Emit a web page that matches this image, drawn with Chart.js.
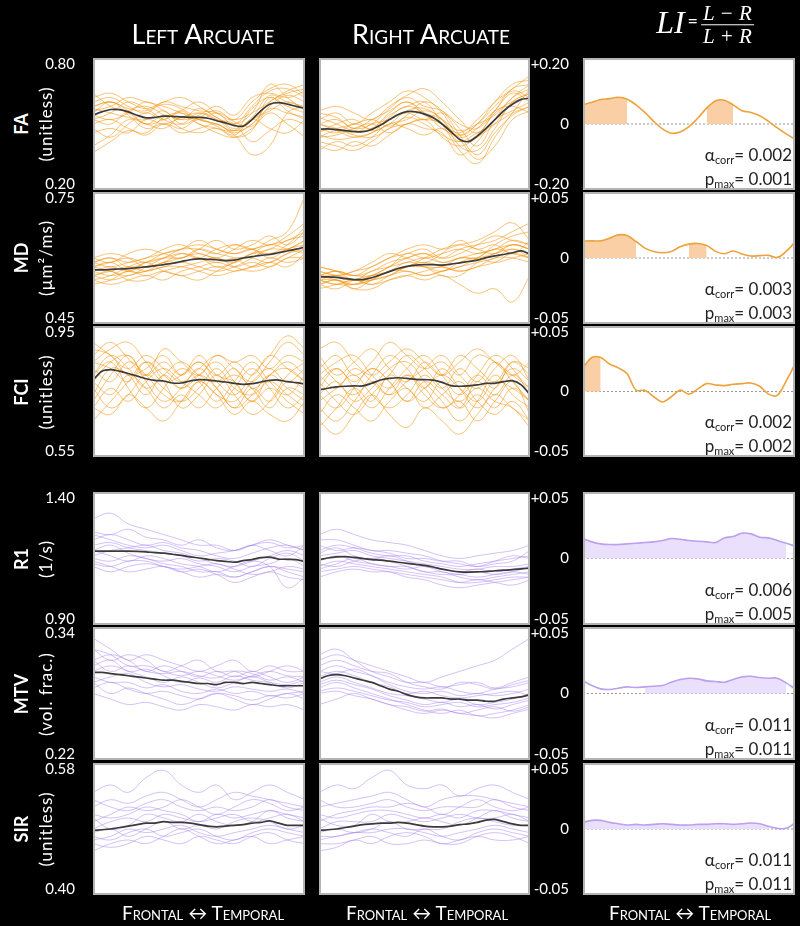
<!DOCTYPE html>
<html><head><meta charset="utf-8">
<script src="https://cdn.jsdelivr.net/npm/chart.js@4.4.0/dist/chart.umd.min.js"></script>
<style>
html,body{margin:0;padding:0;background:#000;width:800px;height:926px;overflow:hidden;font-family:Lato,'Open Sans',sans-serif;}
canvas{position:absolute;}
.t{position:absolute;color:#fff;white-space:nowrap;}
.hdr{font-variant:small-caps;font-size:27px;transform:translate(-50%,-50%);}
.foot{font-variant:small-caps;font-size:19px;transform:translate(-50%,-50%);}
.rt{transform:translate(-50%,-50%) rotate(-90deg);}
.stat{position:absolute;color:#222;font-size:17px;text-align:right;line-height:19px;white-space:nowrap;}
.stat sub{font-size:11px;vertical-align:-3px;}
.frac{font-family:'Liberation Serif','DejaVu Serif',serif;font-style:italic;}
</style></head><body>
<script>
// ---------- DATA ----------
const columnTitles = ['Left Arcuate', 'Right Arcuate'];
const xAxisText = 'Frontal \u2194 Temporal';
const rowNames = ['FA', 'MD', 'FCI', 'R1', 'MTV', 'SIR'];
const rowUnits = ['(unitless)', '(\u00b5m\u00b2/ms)', '(unitless)', '(1/s)', '(vol. frac.)', '(unitless)'];
const yRanges = [[0.20, 0.80], [0.45, 0.75], [0.55, 0.95], [0.90, 1.40], [0.22, 0.34], [0.40, 0.58]];
const yTickLabels = [['0.20', '0.80'], ['0.45', '0.75'], ['0.55', '0.95'], ['0.90', '1.40'], ['0.22', '0.34'], ['0.40', '0.58']];
const liLimits = [0.20, 0.05, 0.05, 0.05, 0.05, 0.05];
const liTickLabels = [['-0.20', '0', '+0.20'], ['-0.05', '0', '+0.05'], ['-0.05', '0', '+0.05'], ['-0.05', '0', '+0.05'], ['-0.05', '0', '+0.05'], ['-0.05', '0', '+0.05']];
const alphaCorr = ['0.002', '0.003', '0.002', '0.006', '0.011', '0.011'];
const pMax = ['0.001', '0.003', '0.002', '0.005', '0.011', '0.011'];

// group means (25 nodes along the tract)
const faLeftMean = [0.54,0.555,0.566,0.565,0.555,0.54,0.528,0.53,0.536,0.535,0.532,0.53,0.53,0.526,0.515,0.505,0.493,0.49,0.52,0.56,0.59,0.597,0.59,0.58,0.571];
const faRightMean = [0.476,0.478,0.474,0.47,0.466,0.465,0.475,0.495,0.52,0.543,0.556,0.555,0.545,0.528,0.5,0.465,0.43,0.42,0.445,0.48,0.52,0.56,0.59,0.612,0.617];
const mdLeftMean = [0.573,0.573,0.574,0.575,0.576,0.578,0.58,0.582,0.585,0.588,0.592,0.596,0.598,0.597,0.596,0.594,0.595,0.6,0.603,0.606,0.608,0.612,0.616,0.62,0.625];
const mdRightMean = [0.557,0.557,0.556,0.553,0.551,0.551,0.555,0.562,0.569,0.576,0.581,0.584,0.585,0.585,0.584,0.586,0.589,0.592,0.595,0.601,0.605,0.608,0.612,0.616,0.609];
const fciLeftMean = [0.785,0.812,0.817,0.812,0.805,0.797,0.789,0.784,0.782,0.776,0.776,0.782,0.786,0.785,0.782,0.779,0.775,0.772,0.774,0.779,0.784,0.785,0.78,0.777,0.773];
const fciRightMean = [0.755,0.76,0.764,0.766,0.767,0.767,0.775,0.785,0.79,0.792,0.79,0.787,0.786,0.785,0.778,0.768,0.766,0.767,0.77,0.775,0.775,0.78,0.783,0.77,0.74];
const r1LeftMean = [1.178,1.178,1.178,1.178,1.178,1.177,1.175,1.172,1.17,1.166,1.162,1.156,1.152,1.147,1.142,1.139,1.136,1.142,1.146,1.153,1.155,1.148,1.147,1.146,1.138];
const r1RightMean = [1.146,1.152,1.156,1.157,1.154,1.15,1.146,1.144,1.14,1.136,1.132,1.128,1.124,1.118,1.11,1.104,1.1,1.099,1.1,1.101,1.104,1.106,1.108,1.111,1.114];
const mtvLeftMean = [0.299,0.299,0.298,0.297,0.296,0.295,0.294,0.293,0.292,0.292,0.291,0.29,0.289,0.289,0.288,0.29,0.29,0.289,0.29,0.289,0.288,0.287,0.287,0.287,0.287];
const mtvRightMean = [0.293,0.296,0.297,0.296,0.294,0.292,0.29,0.287,0.284,0.282,0.279,0.277,0.276,0.276,0.276,0.275,0.275,0.274,0.274,0.273,0.273,0.275,0.276,0.277,0.279];
const sirLeftMean = [0.488,0.489,0.49,0.492,0.494,0.496,0.498,0.498,0.5,0.499,0.499,0.498,0.496,0.494,0.493,0.494,0.495,0.496,0.498,0.499,0.501,0.498,0.495,0.495,0.495];
const sirRightMean = [0.488,0.489,0.49,0.492,0.494,0.496,0.497,0.498,0.498,0.499,0.498,0.496,0.494,0.493,0.493,0.494,0.496,0.497,0.499,0.502,0.503,0.5,0.497,0.495,0.495];

// laterality index (25 nodes)
const liFA = [0.058,0.066,0.074,0.077,0.081,0.075,0.058,0.035,0.008,-0.015,-0.028,-0.024,-0.008,0.018,0.048,0.07,0.072,0.058,0.04,0.035,0.025,0.008,-0.012,-0.03,-0.046];
const liMD = [0.0128,0.013,0.013,0.015,0.0175,0.017,0.0125,0.0075,0.005,0.004,0.005,0.0085,0.0105,0.011,0.0095,0.005,0.0032,0.0053,0.003,0.0015,0.0018,0.002,0.0005,0.005,0.012];
const liFCI = [0.018,0.026,0.026,0.021,0.018,0.0135,0.001,0.001,-0.004,-0.008,-0.004,0.001,-0.002,0.002,0.006,0.005,0.0045,0.0055,0.006,0.0065,0.004,-0.002,-0.003,0.008,0.021];
const liR1 = [0.015,0.0125,0.011,0.0105,0.0105,0.011,0.0115,0.012,0.0125,0.0135,0.015,0.0145,0.0135,0.013,0.0125,0.012,0.0155,0.0165,0.019,0.0185,0.016,0.0155,0.0135,0.0115,0.0093];
const liMTV = [0.0095,0.006,0.0035,0.003,0.004,0.005,0.0045,0.005,0.0055,0.006,0.0085,0.0105,0.0115,0.011,0.0095,0.009,0.0085,0.0105,0.0125,0.013,0.012,0.0115,0.0115,0.008,0.0035];
const liSIR = [0.005,0.0065,0.0065,0.005,0.004,0.003,0.0035,0.003,0.0035,0.004,0.0035,0.003,0.003,0.0035,0.0035,0.004,0.004,0.0035,0.004,0.0045,0.004,0.002,0.0005,0.0005,0.0045];
// significant node ranges (first, last node index)
const faShade = [[0,5],[14,17]];
const mdShade = [[0,6],[12,14]];
const fciShade = [[0,2]];
const r1Shade = [[0,23]];
const mtvShade = [[7,23]];
const sirShade = [[0,21]];

// individual subjects (13 nodes along the tract)
const faLeftSubj = [
[0.60,0.62,0.58,0.55,0.60,0.58,0.56,0.55,0.50,0.58,0.65,0.66,0.62],
[0.52,0.55,0.60,0.57,0.52,0.50,0.55,0.52,0.47,0.50,0.60,0.64,0.66],
[0.48,0.44,0.50,0.55,0.52,0.56,0.50,0.48,0.45,0.36,0.40,0.55,0.58],
[0.58,0.60,0.56,0.50,0.54,0.52,0.57,0.53,0.50,0.55,0.68,0.62,0.56],
[0.40,0.45,0.52,0.50,0.48,0.53,0.50,0.46,0.44,0.48,0.55,0.50,0.44],
[0.56,0.58,0.62,0.60,0.58,0.55,0.52,0.55,0.52,0.55,0.60,0.65,0.68],
[0.55,0.60,0.54,0.48,0.50,0.46,0.48,0.50,0.46,0.50,0.57,0.55,0.53],
[0.62,0.64,0.60,0.57,0.60,0.62,0.58,0.53,0.48,0.53,0.63,0.60,0.58],
[0.50,0.52,0.48,0.46,0.53,0.55,0.52,0.50,0.47,0.57,0.62,0.58,0.55],
[0.57,0.55,0.53,0.52,0.56,0.50,0.53,0.56,0.51,0.49,0.58,0.63,0.60],
[0.52,0.50,0.56,0.58,0.54,0.48,0.46,0.48,0.44,0.47,0.62,0.56,0.52],
[0.64,0.58,0.55,0.50,0.52,0.56,0.60,0.55,0.52,0.60,0.66,0.68,0.63],
[0.46,0.48,0.46,0.52,0.50,0.53,0.55,0.52,0.50,0.42,0.47,0.52,0.50],
[0.58,0.60,0.57,0.56,0.59,0.57,0.52,0.50,0.47,0.52,0.56,0.60,0.57],
[0.37,0.42,0.47,0.45,0.50,0.48,0.52,0.49,0.45,0.52,0.48,0.46,0.52],
[0.54,0.52,0.55,0.60,0.56,0.52,0.54,0.58,0.54,0.62,0.64,0.62,0.65]];
const faRightSubj = [
[0.52,0.55,0.50,0.55,0.60,0.65,0.62,0.55,0.45,0.50,0.60,0.68,0.70],
[0.45,0.43,0.44,0.46,0.50,0.52,0.56,0.52,0.40,0.38,0.48,0.60,0.64],
[0.40,0.38,0.42,0.40,0.45,0.50,0.48,0.46,0.36,0.42,0.52,0.56,0.60],
[0.50,0.52,0.48,0.52,0.56,0.60,0.55,0.48,0.45,0.50,0.58,0.65,0.62],
[0.48,0.46,0.50,0.48,0.54,0.58,0.60,0.50,0.38,0.32,0.44,0.55,0.66],
[0.55,0.53,0.48,0.50,0.57,0.62,0.58,0.56,0.50,0.48,0.56,0.64,0.60],
[0.44,0.47,0.45,0.44,0.48,0.53,0.50,0.45,0.42,0.46,0.50,0.55,0.58],
[0.50,0.48,0.46,0.50,0.52,0.55,0.52,0.55,0.48,0.40,0.52,0.62,0.68],
[0.46,0.50,0.52,0.47,0.50,0.56,0.57,0.52,0.44,0.48,0.56,0.58,0.55],
[0.42,0.40,0.38,0.42,0.48,0.50,0.52,0.44,0.40,0.44,0.50,0.60,0.64],
[0.53,0.50,0.47,0.48,0.55,0.60,0.54,0.50,0.46,0.52,0.60,0.66,0.72],
[0.47,0.48,0.50,0.52,0.49,0.54,0.60,0.56,0.45,0.36,0.46,0.54,0.58],
[0.38,0.42,0.40,0.44,0.50,0.48,0.45,0.48,0.42,0.45,0.55,0.60,0.62],
[0.50,0.47,0.44,0.46,0.53,0.58,0.55,0.52,0.47,0.50,0.54,0.62,0.66],
[0.56,0.58,0.55,0.52,0.58,0.63,0.66,0.60,0.52,0.46,0.56,0.66,0.68],
[0.44,0.45,0.48,0.50,0.46,0.50,0.52,0.50,0.43,0.34,0.40,0.52,0.56]];
const mdLeftSubj = [
[0.59,0.60,0.59,0.60,0.61,0.62,0.64,0.62,0.61,0.62,0.63,0.64,0.66],
[0.56,0.55,0.56,0.57,0.58,0.59,0.58,0.57,0.58,0.60,0.62,0.62,0.64],
[0.58,0.59,0.60,0.59,0.60,0.61,0.60,0.62,0.63,0.62,0.64,0.66,0.74],
[0.55,0.54,0.55,0.56,0.55,0.57,0.58,0.59,0.58,0.59,0.58,0.60,0.60],
[0.57,0.58,0.57,0.59,0.60,0.60,0.62,0.61,0.60,0.58,0.59,0.61,0.62],
[0.60,0.61,0.60,0.58,0.59,0.60,0.61,0.60,0.62,0.64,0.63,0.65,0.68],
[0.56,0.57,0.58,0.57,0.58,0.58,0.57,0.56,0.57,0.58,0.60,0.59,0.60],
[0.58,0.57,0.56,0.58,0.60,0.62,0.63,0.62,0.61,0.62,0.60,0.62,0.63],
[0.55,0.56,0.58,0.59,0.57,0.56,0.55,0.57,0.59,0.61,0.63,0.62,0.61],
[0.59,0.58,0.59,0.60,0.62,0.63,0.61,0.60,0.59,0.61,0.62,0.64,0.65],
[0.57,0.56,0.57,0.58,0.59,0.61,0.60,0.59,0.60,0.60,0.59,0.61,0.63],
[0.56,0.57,0.55,0.55,0.57,0.58,0.59,0.60,0.58,0.57,0.58,0.60,0.62],
[0.60,0.59,0.61,0.62,0.61,0.60,0.62,0.64,0.62,0.63,0.65,0.63,0.66],
[0.58,0.59,0.57,0.57,0.59,0.59,0.60,0.58,0.59,0.61,0.61,0.62,0.64],
[0.54,0.55,0.57,0.56,0.57,0.56,0.57,0.58,0.57,0.58,0.59,0.58,0.61],
[0.59,0.60,0.58,0.59,0.61,0.62,0.62,0.61,0.63,0.62,0.61,0.63,0.67]];
const mdRightSubj = [
[0.57,0.56,0.57,0.58,0.60,0.62,0.63,0.62,0.63,0.64,0.66,0.68,0.64],
[0.55,0.54,0.54,0.55,0.56,0.57,0.56,0.57,0.58,0.59,0.60,0.62,0.60],
[0.54,0.55,0.53,0.53,0.55,0.56,0.55,0.56,0.54,0.52,0.53,0.50,0.56],
[0.56,0.57,0.56,0.57,0.59,0.60,0.61,0.60,0.62,0.63,0.64,0.66,0.68],
[0.58,0.57,0.55,0.56,0.58,0.60,0.61,0.59,0.60,0.61,0.62,0.64,0.63],
[0.55,0.54,0.55,0.54,0.56,0.58,0.59,0.58,0.57,0.58,0.60,0.60,0.59],
[0.56,0.57,0.56,0.56,0.57,0.58,0.60,0.62,0.63,0.62,0.61,0.63,0.62],
[0.54,0.55,0.54,0.55,0.57,0.57,0.56,0.57,0.58,0.60,0.62,0.61,0.60],
[0.57,0.56,0.55,0.57,0.58,0.59,0.60,0.59,0.60,0.60,0.63,0.65,0.66],
[0.55,0.56,0.55,0.55,0.56,0.58,0.58,0.57,0.59,0.60,0.59,0.60,0.61],
[0.56,0.55,0.54,0.56,0.58,0.61,0.60,0.61,0.62,0.61,0.62,0.63,0.62],
[0.53,0.54,0.55,0.54,0.55,0.56,0.57,0.58,0.57,0.58,0.59,0.61,0.60],
[0.58,0.57,0.56,0.58,0.60,0.61,0.62,0.60,0.61,0.63,0.65,0.64,0.63],
[0.55,0.55,0.53,0.55,0.57,0.58,0.58,0.58,0.60,0.60,0.61,0.62,0.61],
[0.56,0.56,0.57,0.59,0.61,0.60,0.59,0.61,0.64,0.62,0.63,0.61,0.64],
[0.54,0.53,0.55,0.56,0.57,0.59,0.58,0.56,0.56,0.59,0.61,0.63,0.62]];
const fciLeftSubj = [
[0.86,0.90,0.85,0.80,0.88,0.84,0.80,0.86,0.82,0.78,0.84,0.90,0.86],
[0.72,0.80,0.86,0.78,0.72,0.76,0.82,0.76,0.70,0.74,0.80,0.76,0.72],
[0.80,0.84,0.76,0.70,0.76,0.82,0.78,0.72,0.78,0.84,0.78,0.74,0.80],
[0.66,0.72,0.78,0.84,0.78,0.70,0.74,0.80,0.74,0.68,0.72,0.80,0.84],
[0.84,0.88,0.90,0.84,0.78,0.80,0.84,0.80,0.84,0.80,0.86,0.82,0.78],
[0.78,0.74,0.80,0.76,0.70,0.74,0.70,0.76,0.80,0.76,0.70,0.76,0.74],
[0.88,0.86,0.80,0.82,0.86,0.80,0.84,0.78,0.74,0.80,0.86,0.92,0.88],
[0.74,0.82,0.80,0.74,0.80,0.76,0.80,0.84,0.78,0.72,0.76,0.72,0.68],
[0.82,0.78,0.84,0.80,0.74,0.72,0.78,0.74,0.72,0.78,0.82,0.78,0.82],
[0.70,0.76,0.72,0.78,0.82,0.78,0.74,0.70,0.76,0.82,0.76,0.70,0.74],
[0.80,0.86,0.82,0.76,0.80,0.84,0.80,0.78,0.82,0.76,0.80,0.84,0.80],
[0.76,0.70,0.74,0.80,0.76,0.72,0.76,0.82,0.76,0.74,0.78,0.74,0.70],
[0.84,0.82,0.78,0.84,0.80,0.76,0.80,0.76,0.70,0.76,0.72,0.78,0.76],
[0.78,0.84,0.86,0.80,0.84,0.80,0.86,0.80,0.78,0.72,0.80,0.82,0.78],
[0.70,0.68,0.74,0.70,0.66,0.72,0.78,0.74,0.68,0.72,0.68,0.66,0.72],
[0.90,0.86,0.82,0.86,0.82,0.78,0.82,0.86,0.84,0.86,0.82,0.86,0.84]];
const fciRightSubj = [
[0.82,0.86,0.80,0.84,0.90,0.86,0.82,0.84,0.80,0.86,0.84,0.80,0.76],
[0.70,0.66,0.72,0.78,0.74,0.80,0.76,0.70,0.72,0.66,0.72,0.78,0.68],
[0.78,0.82,0.76,0.70,0.76,0.82,0.86,0.80,0.74,0.80,0.86,0.82,0.74],
[0.64,0.70,0.76,0.72,0.80,0.76,0.72,0.78,0.70,0.74,0.70,0.76,0.72],
[0.86,0.80,0.84,0.88,0.82,0.78,0.84,0.80,0.86,0.82,0.78,0.84,0.80],
[0.74,0.78,0.72,0.76,0.82,0.84,0.78,0.72,0.66,0.72,0.80,0.74,0.70],
[0.80,0.76,0.82,0.78,0.74,0.78,0.82,0.86,0.80,0.76,0.82,0.86,0.78],
[0.68,0.74,0.70,0.66,0.72,0.76,0.70,0.74,0.78,0.72,0.68,0.72,0.66],
[0.76,0.82,0.78,0.82,0.78,0.72,0.78,0.74,0.70,0.78,0.74,0.80,0.76],
[0.84,0.78,0.74,0.80,0.86,0.82,0.76,0.82,0.76,0.70,0.76,0.82,0.78],
[0.72,0.76,0.80,0.74,0.70,0.74,0.80,0.76,0.82,0.78,0.84,0.78,0.72],
[0.78,0.72,0.68,0.74,0.80,0.86,0.82,0.76,0.72,0.76,0.72,0.70,0.64],
[0.80,0.84,0.86,0.80,0.76,0.80,0.74,0.70,0.74,0.80,0.76,0.84,0.82],
[0.74,0.70,0.76,0.82,0.78,0.72,0.76,0.80,0.76,0.72,0.78,0.76,0.72],
[0.66,0.62,0.68,0.74,0.68,0.64,0.70,0.66,0.62,0.68,0.74,0.70,0.66],
[0.88,0.90,0.84,0.80,0.84,0.88,0.84,0.80,0.84,0.88,0.84,0.80,0.84]];
const r1LeftSubj = [
[1.30,1.32,1.28,1.26,1.24,1.22,1.20,1.20,1.18,1.20,1.22,1.20,1.18],
[1.15,1.14,1.16,1.15,1.13,1.12,1.10,1.10,1.08,1.10,1.12,1.10,1.08],
[1.22,1.24,1.22,1.20,1.21,1.19,1.18,1.16,1.15,1.17,1.19,1.20,1.18],
[1.18,1.16,1.14,1.16,1.15,1.13,1.12,1.10,1.12,1.14,1.12,1.04,1.08],
[1.25,1.24,1.26,1.23,1.22,1.20,1.22,1.19,1.18,1.20,1.18,1.16,1.20],
[1.14,1.12,1.10,1.11,1.12,1.10,1.08,1.09,1.08,1.10,1.12,1.11,1.10],
[1.20,1.21,1.19,1.18,1.17,1.16,1.14,1.15,1.14,1.12,1.15,1.17,1.14],
[1.16,1.18,1.19,1.20,1.18,1.17,1.15,1.13,1.12,1.14,1.16,1.18,1.16],
[1.12,1.10,1.12,1.13,1.12,1.10,1.11,1.09,1.06,1.08,1.10,1.08,1.07],
[1.24,1.22,1.20,1.19,1.20,1.18,1.16,1.17,1.18,1.20,1.21,1.19,1.20],
[1.18,1.20,1.17,1.15,1.14,1.15,1.13,1.12,1.10,1.12,1.13,1.15,1.12],
[1.13,1.12,1.14,1.14,1.12,1.11,1.12,1.13,1.11,1.09,1.10,1.12,1.11]];
const r1RightSubj = [
[1.24,1.26,1.24,1.22,1.21,1.20,1.18,1.16,1.15,1.16,1.17,1.18,1.20],
[1.12,1.14,1.13,1.12,1.11,1.10,1.09,1.08,1.06,1.06,1.07,1.08,1.08],
[1.18,1.20,1.19,1.17,1.16,1.16,1.14,1.13,1.12,1.13,1.14,1.15,1.16],
[1.10,1.11,1.12,1.11,1.10,1.08,1.07,1.05,1.04,1.05,1.06,1.07,1.08],
[1.20,1.18,1.19,1.18,1.17,1.15,1.15,1.14,1.14,1.12,1.13,1.14,1.18],
[1.14,1.16,1.14,1.13,1.12,1.12,1.10,1.09,1.09,1.10,1.09,1.10,1.12],
[1.16,1.17,1.18,1.16,1.15,1.14,1.13,1.12,1.11,1.11,1.12,1.12,1.13],
[1.08,1.10,1.11,1.10,1.10,1.09,1.08,1.07,1.06,1.07,1.06,1.05,1.07],
[1.22,1.22,1.20,1.18,1.18,1.17,1.16,1.14,1.13,1.12,1.14,1.16,1.15],
[1.13,1.12,1.14,1.15,1.14,1.12,1.10,1.10,1.08,1.07,1.08,1.09,1.10],
[1.17,1.19,1.16,1.15,1.16,1.14,1.12,1.11,1.10,1.11,1.10,1.11,1.12],
[1.11,1.13,1.15,1.13,1.12,1.11,1.12,1.10,1.09,1.08,1.09,1.10,1.09]];
const mtvLeftSubj = [
[0.33,0.32,0.31,0.315,0.31,0.305,0.30,0.305,0.31,0.30,0.305,0.30,0.30],
[0.29,0.28,0.285,0.28,0.275,0.27,0.275,0.28,0.275,0.27,0.275,0.28,0.275],
[0.31,0.315,0.31,0.30,0.305,0.30,0.295,0.30,0.295,0.30,0.295,0.29,0.295],
[0.28,0.275,0.27,0.272,0.268,0.265,0.27,0.268,0.265,0.27,0.268,0.27,0.265],
[0.32,0.31,0.315,0.31,0.30,0.305,0.31,0.30,0.30,0.295,0.30,0.305,0.30],
[0.30,0.305,0.30,0.295,0.29,0.295,0.29,0.285,0.29,0.295,0.29,0.285,0.29],
[0.295,0.29,0.29,0.285,0.288,0.282,0.28,0.284,0.28,0.282,0.278,0.28,0.282],
[0.31,0.30,0.305,0.30,0.298,0.30,0.296,0.294,0.30,0.298,0.292,0.295,0.29],
[0.285,0.29,0.284,0.28,0.282,0.278,0.275,0.28,0.278,0.274,0.278,0.276,0.28],
[0.305,0.31,0.30,0.302,0.296,0.29,0.294,0.29,0.296,0.292,0.29,0.288,0.292],
[0.29,0.295,0.298,0.29,0.286,0.288,0.284,0.282,0.286,0.284,0.282,0.284,0.28],
[0.32,0.315,0.305,0.305,0.30,0.296,0.30,0.296,0.292,0.296,0.30,0.296,0.295]];
const mtvRightSubj = [
[0.31,0.315,0.31,0.305,0.30,0.295,0.29,0.295,0.30,0.305,0.31,0.32,0.33],
[0.285,0.29,0.285,0.28,0.275,0.27,0.265,0.262,0.265,0.26,0.262,0.265,0.27],
[0.30,0.305,0.30,0.296,0.29,0.286,0.284,0.286,0.282,0.28,0.284,0.286,0.29],
[0.28,0.282,0.278,0.275,0.27,0.265,0.262,0.265,0.262,0.26,0.258,0.262,0.266],
[0.315,0.32,0.31,0.30,0.295,0.29,0.29,0.286,0.288,0.29,0.285,0.29,0.295],
[0.29,0.295,0.29,0.285,0.28,0.278,0.275,0.272,0.275,0.27,0.272,0.275,0.28],
[0.30,0.298,0.302,0.296,0.288,0.282,0.28,0.282,0.278,0.28,0.278,0.28,0.284],
[0.27,0.275,0.28,0.275,0.27,0.268,0.264,0.266,0.262,0.265,0.268,0.264,0.268],
[0.305,0.31,0.305,0.30,0.298,0.29,0.286,0.284,0.29,0.288,0.284,0.288,0.292],
[0.288,0.292,0.288,0.284,0.278,0.274,0.27,0.272,0.268,0.27,0.266,0.27,0.274],
[0.295,0.30,0.296,0.29,0.286,0.28,0.282,0.278,0.276,0.278,0.28,0.282,0.278],
[0.282,0.285,0.282,0.278,0.274,0.272,0.268,0.27,0.272,0.268,0.27,0.272,0.276]];
const sirLeftSubj = [
[0.54,0.55,0.54,0.56,0.57,0.55,0.54,0.55,0.53,0.54,0.55,0.54,0.53],
[0.47,0.465,0.47,0.48,0.475,0.47,0.48,0.475,0.47,0.48,0.485,0.475,0.47],
[0.50,0.51,0.52,0.515,0.52,0.53,0.52,0.51,0.52,0.53,0.525,0.515,0.52],
[0.48,0.475,0.485,0.49,0.48,0.485,0.49,0.48,0.475,0.485,0.49,0.485,0.48],
[0.52,0.53,0.525,0.535,0.54,0.53,0.52,0.53,0.54,0.535,0.53,0.525,0.52],
[0.46,0.47,0.475,0.47,0.48,0.49,0.48,0.47,0.475,0.48,0.47,0.475,0.48],
[0.49,0.50,0.505,0.50,0.51,0.505,0.50,0.505,0.51,0.50,0.505,0.51,0.50],
[0.505,0.49,0.495,0.51,0.505,0.50,0.51,0.50,0.495,0.50,0.515,0.505,0.50],
[0.475,0.48,0.49,0.485,0.49,0.495,0.485,0.48,0.485,0.49,0.495,0.49,0.485],
[0.53,0.52,0.515,0.525,0.53,0.52,0.515,0.52,0.515,0.52,0.53,0.52,0.515],
[0.485,0.49,0.48,0.49,0.50,0.49,0.495,0.49,0.50,0.505,0.50,0.49,0.495],
[0.51,0.505,0.51,0.52,0.515,0.51,0.50,0.51,0.505,0.51,0.515,0.51,0.505]];
const sirRightSubj = [
[0.54,0.55,0.545,0.56,0.57,0.55,0.545,0.55,0.535,0.545,0.55,0.54,0.53],
[0.47,0.47,0.475,0.48,0.47,0.47,0.475,0.47,0.47,0.48,0.485,0.48,0.47],
[0.50,0.51,0.515,0.52,0.52,0.525,0.52,0.51,0.52,0.53,0.52,0.515,0.52],
[0.48,0.48,0.485,0.49,0.485,0.48,0.49,0.48,0.475,0.485,0.49,0.485,0.48],
[0.52,0.525,0.53,0.535,0.54,0.53,0.52,0.53,0.535,0.535,0.53,0.525,0.52],
[0.46,0.465,0.475,0.47,0.48,0.485,0.48,0.47,0.475,0.48,0.475,0.475,0.48],
[0.49,0.50,0.50,0.50,0.51,0.505,0.50,0.505,0.51,0.505,0.505,0.51,0.50],
[0.505,0.495,0.495,0.51,0.50,0.50,0.505,0.50,0.495,0.505,0.515,0.505,0.50],
[0.475,0.48,0.485,0.485,0.49,0.49,0.485,0.48,0.485,0.49,0.495,0.49,0.485],
[0.53,0.52,0.52,0.525,0.53,0.52,0.515,0.52,0.52,0.52,0.53,0.52,0.515],
[0.485,0.49,0.485,0.49,0.50,0.49,0.49,0.49,0.50,0.505,0.50,0.495,0.495],
[0.51,0.505,0.51,0.515,0.515,0.51,0.505,0.51,0.505,0.515,0.515,0.51,0.505]];

// ---------- LAYOUT / STYLE ----------
const ROWS = [[58,190],[192,324],[326,457],[492,625],[627,760],[763,895]];
const COLS = [[93,305],[319,530],[583,795]];
const ORANGE = {subj:'rgba(243,146,10,0.55)', li:'#eea23c', fill:'#fbcfa6'};
const PURPLE = {subj:'rgba(160,120,235,0.45)', li:'#baa0ee', fill:'#ebe0fb'};
const rowData = [
  {L:faLeftMean, R:faRightMean, LS:faLeftSubj, RS:faRightSubj, LI:liFA, sh:faShade, pal:ORANGE},
  {L:mdLeftMean, R:mdRightMean, LS:mdLeftSubj, RS:mdRightSubj, LI:liMD, sh:mdShade, pal:ORANGE},
  {L:fciLeftMean, R:fciRightMean, LS:fciLeftSubj, RS:fciRightSubj, LI:liFCI, sh:fciShade, pal:ORANGE},
  {L:r1LeftMean, R:r1RightMean, LS:r1LeftSubj, RS:r1RightSubj, LI:liR1, sh:r1Shade, pal:PURPLE},
  {L:mtvLeftMean, R:mtvRightMean, LS:mtvLeftSubj, RS:mtvRightSubj, LI:liMTV, sh:mtvShade, pal:PURPLE},
  {L:sirLeftMean, R:sirRightMean, LS:sirLeftSubj, RS:sirRightSubj, LI:liSIR, sh:sirShade, pal:PURPLE}
];

Chart.defaults.font.family = 'Lato';
const pts = a => a.map((v,i) => ({x: i/(a.length-1), y: v}));
const shadePts = (a, rg) => a.map((v,i) => ({x: i/(a.length-1), y: rg.some(([s,e]) => i>=s && i<=e) ? v : null}));

const panelBg = {
  id:'panelBg',
  beforeDraw(c){ const a=c.chartArea, g=c.ctx; g.save(); g.fillStyle='#fff'; g.fillRect(a.left,a.top,a.right-a.left,a.bottom-a.top); g.restore(); },
  afterDraw(c){ const a=c.chartArea, g=c.ctx; g.save(); g.strokeStyle='#b4b4b4'; g.lineWidth=2; g.strokeRect(a.left+1,a.top+1,a.right-a.left-2,a.bottom-a.top-2); g.restore(); }
};

function panel(col, row, axisW, min, max, tickVals, tickTxt, tickPad, datasets){
  const [x0,x1] = COLS[col], [y0,y1] = ROWS[row];
  const PAD = 28, w = x1-x0, h = y1-y0;
  const cv = document.createElement('canvas');
  cv.width = w+axisW; cv.height = h+2*PAD;
  cv.style.left = (x0-axisW)+'px'; cv.style.top = (y0-PAD)+'px';
  cv.style.width = cv.width+'px'; cv.style.height = cv.height+'px';
  document.body.appendChild(cv);
  new Chart(cv, {
    type:'line',
    data:{datasets},
    options:{
      responsive:false, animation:false, devicePixelRatio:1,
      layout:{padding:{top:PAD,bottom:PAD,left:0,right:0}},
      plugins:{legend:{display:false}, tooltip:{enabled:false}},
      elements:{point:{radius:0}},
      scales:{
        x:{type:'linear', min:0, max:1, display:false},
        y:{type:'linear', min, max, display: axisW>0,
           afterFit(s){ s.width = axisW; },
           afterBuildTicks(s){ s.ticks = tickVals.map(v => ({value:v})); },
           ticks:{autoSkip:false, color:'#fff', font:{size:15}, padding:tickPad, callback:(v,i) => tickTxt[i]},
           grid:{display:false}, border:{display:false}}
      }
    },
    plugins:[panelBg]
  });
}

rowData.forEach((r, ri) => {
  const [mn, mx] = yRanges[ri], h = ROWS[ri][1]-ROWS[ri][0];
  const d = (mx-mn)*6/h;
  const tv = [mn+d, mx-d];
  ['L','R'].forEach((side, ci) => {
    const subj = side==='L' ? r.LS : r.RS;
    const ds = [{data: pts(r[side]), borderColor:'#3a3a3a', borderWidth:1.7, tension:0.3}];
    subj.forEach(s => ds.push({data: pts(s), borderColor: r.pal.subj, borderWidth:1, tension:0.4}));
    panel(ci, ri, ci===0 ? 60 : 0, mn, mx, tv, yTickLabels[ri], 10, ds);
  });
  const lim = liLimits[ri], dl = 2*lim*6/h;
  panel(2, ri, 60, -lim, lim, [-lim+dl, 0, lim-dl], liTickLabels[ri], 6, [
    {data: pts(r.LI), borderColor: r.pal.li, borderWidth:1.6, tension:0.35},
    {data: shadePts(r.LI, r.sh), borderWidth:0, borderColor:'rgba(0,0,0,0)', backgroundColor: r.pal.fill, fill:'origin', tension:0.35, spanGaps:false},
    {data: pts([0,0]), borderColor:'#9a9a9a', borderWidth:1, borderDash:[2,2]}
  ]);
});

// ---------- TEXT ----------
function txt(cls, html, x, y, extra){
  const e = document.createElement('div');
  e.className = 't '+cls; e.innerHTML = html;
  e.style.left = x+'px'; e.style.top = y+'px';
  if (extra) e.style.cssText += extra;
  document.body.appendChild(e);
  return e;
}
txt('hdr', columnTitles[0], 203, 33);
txt('hdr', columnTitles[1], 431, 33);
txt('', '<span class="frac" style="font-size:32px">LI</span><span style="font-size:18px;margin:0 3px;position:relative;top:-6px">=</span>' +
  '<span class="frac" style="display:inline-flex;flex-direction:column;align-items:center;font-size:21px;line-height:22px;vertical-align:middle;position:relative;top:-4px"><span>L \u2212 R</span><span style="border-top:1.5px solid #fff;padding:0 2px">L + R</span></span>',
  705, 28, 'transform:translate(-50%,-50%);');
[203, 427, 690].forEach(x => txt('foot', xAxisText, x, 912));
rowNames.forEach((n, ri) => {
  const cy = (ROWS[ri][0]+ROWS[ri][1])/2;
  txt('rt', n, 21, cy, 'font-weight:bold;font-size:18px;');
  txt('rt', rowUnits[ri], 45, cy, 'font-size:17px;letter-spacing:1px;');
  const s = document.createElement('div');
  s.className = 'stat';
  s.innerHTML = '\u03b1<sub>corr</sub>= '+alphaCorr[ri]+'<br>p<sub>max</sub>= '+pMax[ri];
  s.style.right = '8px';
  s.style.top = (ROWS[ri][1]-45)+'px';
  document.body.appendChild(s);
});
</script>
</body></html>
